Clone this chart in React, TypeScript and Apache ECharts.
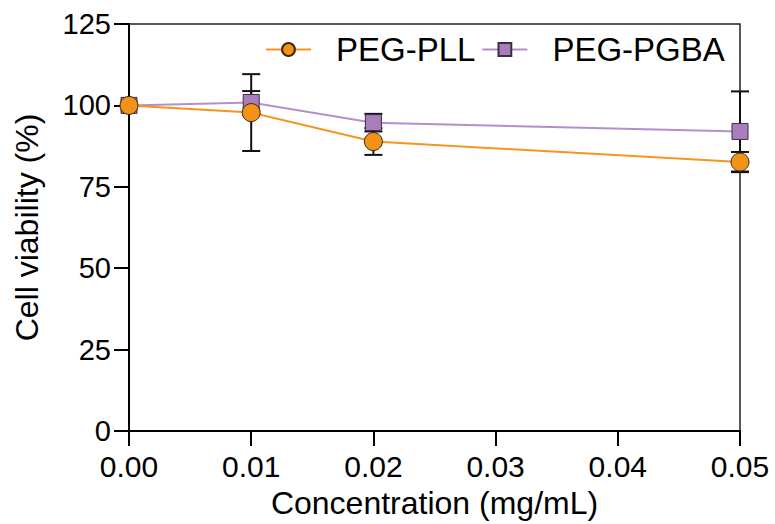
import React, { useEffect, useRef } from "react";
import * as echarts from "echarts";

const concentrations = [0, 0.01, 0.02, 0.05];
const pllValues = [100, 97.8, 88.9, 82.6];
const pllErrors = [0, 11.8, 4.1, 3.1];
const pgbaValues = [100, 100.9, 94.7, 92.0];
const pgbaErrors = [0, 3.5, 2.7, 12.3];
const seriesNames = ["PEG-PLL", "PEG-PGBA"];
const xTicks = [0, 0.01, 0.02, 0.03, 0.04, 0.05];

const FONT = "Liberation Sans, Arial, Helvetica, sans-serif";
const ORANGE = "#F7931E";
const ORANGE_FILL = "#F39219";
const PURPLE_LINE = "#B490CB";
const PURPLE_FILL = "#A97DBA";

function errorData(vals: number[], errs: number[]) {
  return concentrations.map((c, i) => [c, vals[i] - errs[i], vals[i] + errs[i]]);
}

function errorSeries(data: number[][], z: number) {
  return {
    type: "custom",
    silent: true,
    z,
    data,
    encode: { x: 0, y: [1, 2] },
    renderItem: (params: any, api: any) => {
      const x = api.value(0);
      const lo = api.value(1);
      const hi = api.value(2);
      if (hi - lo <= 0) return null;
      const pLo = api.coord([x, lo]);
      const pHi = api.coord([x, hi]);
      const w = 9;
      const style = { stroke: "#111", lineWidth: 2, fill: "none" };
      return {
        type: "group",
        children: [
          { type: "line", shape: { x1: pLo[0], y1: pLo[1], x2: pHi[0], y2: pHi[1] }, style },
          { type: "line", shape: { x1: pHi[0] - w, y1: pHi[1], x2: pHi[0] + w, y2: pHi[1] }, style },
          { type: "line", shape: { x1: pLo[0] - w, y1: pLo[1], x2: pLo[0] + w, y2: pLo[1] }, style },
        ],
      };
    },
  };
}

export default function App() {
  const ref = useRef<HTMLDivElement>(null);
  useEffect(() => {
    if (!ref.current) return;
    const chart = echarts.init(ref.current, undefined, { renderer: "svg" });
    chart.setOption({
      animation: false,
      backgroundColor: "#ffffff",
      grid: {
        left: 129,
        right: 35,
        top: 24,
        bottom: 93,
        show: true,
        borderColor: "#222",
        borderWidth: 1.5,
        containLabel: false,
      },
      legend: {
        left: 260,
        top: 28,
        itemWidth: 45,
        itemHeight: 16,
        itemGap: 6,
        data: seriesNames,
        textStyle: {
          fontFamily: FONT,
          fontSize: 33,
          color: "#000",
          padding: [0, 0, 0, 20],
        },
      },
      xAxis: {
        type: "value",
        min: 0,
        max: 0.05,
        interval: 0.01,
        name: "Concentration (mg/mL)",
        nameLocation: "middle",
        nameGap: 56,
        nameTextStyle: { fontFamily: FONT, fontSize: 32, color: "#000" },
        axisLine: { show: true, onZero: false, lineStyle: { color: "#000", width: 2 } },
        axisTick: { show: true, length: 15, lineStyle: { color: "#000", width: 2 } },
        axisLabel: {
          fontFamily: FONT,
          fontSize: 30,
          color: "#000",
          margin: 20,
          formatter: (v: number) => {
            const t = xTicks.find((k) => Math.abs(k - v) < 1e-9);
            return (t !== undefined ? t : v).toFixed(2);
          },
        },
        splitLine: { show: false },
      },
      yAxis: {
        type: "value",
        min: 0,
        max: 125,
        interval: 25,
        name: "Cell viability (%)",
        nameLocation: "middle",
        nameGap: 86,
        nameTextStyle: { fontFamily: FONT, fontSize: 32, color: "#000" },
        axisLine: { show: true, onZero: false, lineStyle: { color: "#000", width: 2 } },
        axisTick: { show: true, length: 15, lineStyle: { color: "#000", width: 2 } },
        axisLabel: { fontFamily: FONT, fontSize: 29, color: "#000", margin: 18 },
        splitLine: { show: false },
      },
      series: [
        errorSeries(errorData(pllValues, pllErrors), 1),
        errorSeries(errorData(pgbaValues, pgbaErrors), 1),
        {
          name: seriesNames[1],
          type: "line",
          z: 3,
          data: concentrations.map((c, i) => [c, pgbaValues[i]]),
          symbol: "rect",
          symbolSize: 16,
          lineStyle: { color: PURPLE_LINE, width: 2 },
          itemStyle: { color: PURPLE_FILL, borderColor: "#3d2b4a", borderWidth: 1 },
        },
        {
          name: seriesNames[0],
          type: "line",
          z: 4,
          data: concentrations.map((c, i) => [c, pllValues[i]]),
          symbol: "circle",
          symbolSize: 18,
          lineStyle: { color: ORANGE, width: 2 },
          itemStyle: { color: ORANGE_FILL, borderColor: "#3a2a10", borderWidth: 1 },
        },
      ],
    });
    return () => chart.dispose();
  }, []);
  return (
    <div
      ref={ref}
      style={{ position: "absolute", left: 0, top: 0, width: 775, height: 524 }}
    />
  );
}
